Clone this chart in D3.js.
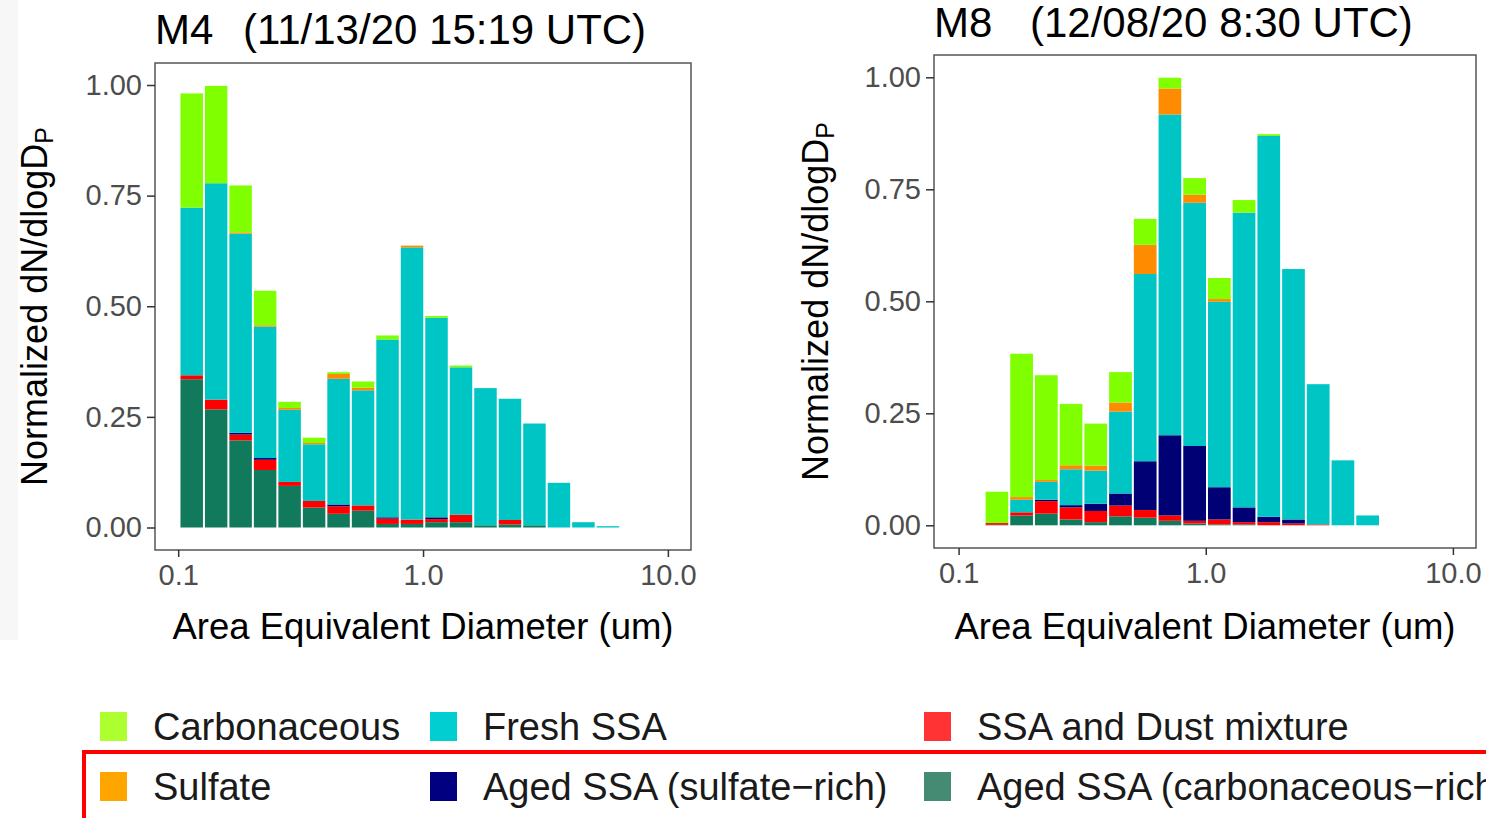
<!DOCTYPE html>
<html>
<head>
<meta charset="utf-8">
<script src="https://cdnjs.cloudflare.com/ajax/libs/d3/7.8.5/d3.min.js"></script>
<style>
    body { margin: 0; background: #fff; }
    svg text { font-family: 'Liberation Sans', Arial, sans-serif; }
</style>
</head>
<body>
<div id="dataviz"></div>
<script>
// bin edges (um), 0.1 decade wide
const binEdges = [0.1012, 0.1274, 0.1603, 0.2018, 0.2541, 0.3199, 0.4027, 0.5070, 0.6383, 0.8035,
    1.0116, 1.2735, 1.6032, 2.0184, 2.5410, 3.1989, 4.0272, 5.0699, 6.3826];

// stacking order, bottom -> top
const stackKeys = ['agedCarb', 'dust', 'agedSulf', 'fresh', 'sulfate', 'carb'];

const yTicks = [0, 0.25, 0.5, 0.75, 1];
const xTicks = [0.1, 1, 10];

// M4 (bins 0..17)
const m4Carb     = [0.258, 0.220, 0.106, 0.078, 0.014, 0.012, 0.004, 0.014, 0.009, 0.000, 0.004, 0.004, 0, 0, 0, 0, 0, 0];
const m4Sulfate  = [0, 0, 0.003, 0.003, 0.004, 0.003, 0.011, 0.006, 0, 0.004, 0, 0, 0, 0, 0, 0, 0, 0];
const m4Fresh    = [0.379, 0.489, 0.450, 0.297, 0.163, 0.128, 0.284, 0.260, 0.402, 0.615, 0.451, 0.333, 0.310, 0.274, 0.230, 0.101, 0.012, 0.003];
const m4AgedSulf = [0, 0, 0.004, 0.004, 0, 0, 0.004, 0, 0.003, 0, 0.004, 0, 0, 0, 0, 0, 0, 0];
const m4Dust     = [0.009, 0.022, 0.013, 0.023, 0.009, 0.015, 0.017, 0.012, 0.012, 0.010, 0.007, 0.017, 0, 0.010, 0, 0, 0, 0];
const m4AgedCarb = [0.335, 0.267, 0.197, 0.130, 0.094, 0.045, 0.031, 0.038, 0.008, 0.008, 0.012, 0.012, 0.005, 0.007, 0.005, 0, 0, 0];

// M8 (bins 1..16)
const m8Carb     = [0.070, 0.320, 0.234, 0.137, 0.094, 0.068, 0.058, 0.024, 0.037, 0.047, 0.028, 0.004, 0, 0, 0, 0];
const m8Sulfate  = [0, 0.006, 0.004, 0.009, 0.011, 0.020, 0.065, 0.058, 0.018, 0.006, 0, 0, 0, 0, 0, 0];
const m8Fresh    = [0, 0.028, 0.040, 0.080, 0.074, 0.183, 0.418, 0.716, 0.543, 0.414, 0.658, 0.850, 0.559, 0.313, 0.145, 0.022];
const m8AgedSulf = [0, 0, 0.003, 0.005, 0.016, 0.027, 0.109, 0.179, 0.167, 0.072, 0.033, 0.012, 0.009, 0, 0, 0];
const m8Dust     = [0.004, 0.007, 0.028, 0.027, 0.025, 0.024, 0.017, 0.012, 0.006, 0.011, 0.005, 0.007, 0.004, 0.002, 0, 0];
const m8AgedCarb = [0.001, 0.022, 0.026, 0.013, 0.007, 0.020, 0.017, 0.010, 0.004, 0.002, 0.002, 0, 0, 0, 0, 0];

// legend, laid out by rows
const legendKeys   = ['carb', 'fresh', 'dust', 'sulfate', 'agedSulf', 'agedCarb'];
const legendLabels = ['Carbonaceous', 'Fresh SSA', 'SSA and Dust mixture',
    'Sulfate', 'Aged SSA (sulfate\u2212rich)', 'Aged SSA (carbonaceous\u2212rich)'];

const barColors = {
    carb: '#7FFF00', sulfate: '#FF8C00', fresh: '#00C5C5',
    agedSulf: '#000075', dust: '#FF0000', agedCarb: '#127A5C'
};
const legendColors = {
    carb: '#ADFF2F', sulfate: '#FFA500', fresh: '#00CED1',
    agedSulf: '#000080', dust: '#FF3333', agedCarb: '#458B74'
};

window.onload = () => {

    const w = 1486;
    const h = 818;

    const svg = d3.select('#dataviz')
        .append('svg')
        .attr('width', w)
        .attr('height', h);

    svg.append('rect')
        .attr('x', 0).attr('y', 0)
        .attr('width', 18).attr('height', 640)
        .attr('fill', '#F7F7F7');

    const panels = [
        {
            title: 'M4', when: '(11/13/20 15:19 UTC)', titleY: 44, whenX: 243,
            startBin: 0,
            series: { carb: m4Carb, sulfate: m4Sulfate, fresh: m4Fresh, agedSulf: m4AgedSulf, dust: m4Dust, agedCarb: m4AgedCarb },
            box: { x0: 155, x1: 691, y0: 63, y1: 550 },
            xr: [178.2, 667.9], yr: [527.5, 85],
            ylabX: 47
        },
        {
            title: 'M8', when: '(12/08/20 8:30 UTC)', titleY: 37, whenX: 1030,
            startBin: 1,
            series: { carb: m8Carb, sulfate: m8Sulfate, fresh: m8Fresh, agedSulf: m8AgedSulf, dust: m8Dust, agedCarb: m8AgedCarb },
            box: { x0: 934, x1: 1476, y0: 55, y1: 548 },
            xr: [958.6, 1452.9], yr: [525.3, 77.3],
            ylabX: 828
        }
    ];

    panels.forEach(drawPanel);

    function drawPanel(p) {
        const g = svg.append('g');

        const xScale = d3.scaleLog().domain([0.1, 10]).range(p.xr);
        const yScale = d3.scaleLinear().domain([0, 1]).range(p.yr);

        const rows = p.series.fresh.map((_, i) => {
            const row = { lo: binEdges[p.startBin + i], hi: binEdges[p.startBin + i + 1] };
            stackKeys.forEach(k => row[k] = p.series[k][i]);
            return row;
        });

        const stacked = d3.stack().keys(stackKeys)(rows);

        g.selectAll('g.layer')
            .data(stacked)
            .enter()
            .append('g')
            .attr('class', 'layer')
            .attr('fill', d => barColors[d.key])
            .selectAll('rect')
            .data(d => d.filter(s => s[1] - s[0] > 0))
            .enter()
            .append('rect')
            .attr('x', d => xScale(d.data.lo) + 1)
            .attr('width', d => xScale(d.data.hi) - xScale(d.data.lo) - 2)
            .attr('y', d => yScale(d[1]))
            .attr('height', d => yScale(d[0]) - yScale(d[1]));

        // panel border
        g.append('rect')
            .attr('x', p.box.x0).attr('y', p.box.y0)
            .attr('width', p.box.x1 - p.box.x0)
            .attr('height', p.box.y1 - p.box.y0)
            .attr('fill', 'none')
            .attr('stroke', '#555')
            .attr('stroke-width', 1.5);

        const yAxis = g.append('g')
            .attr('transform', `translate(${p.box.x0},0)`)
            .call(d3.axisLeft(yScale).tickValues(yTicks).tickFormat(d3.format('.2f')).tickSize(8).tickPadding(5));

        const xAxis = g.append('g')
            .attr('transform', `translate(0,${p.box.y1})`)
            .call(d3.axisBottom(xScale).tickValues(xTicks).tickFormat(d3.format('.1f')).tickSize(7).tickPadding(7));

        [yAxis, xAxis].forEach(ax => {
            ax.select('.domain').remove();
            ax.selectAll('line').attr('stroke', '#333').attr('stroke-width', 1.5);
            ax.selectAll('text')
                .attr('font-size', 29)
                .attr('fill', '#4D4D4D')
                .style('font-family', "'Liberation Sans', Arial, sans-serif");
        });

        // title
        g.append('text')
            .attr('x', p.box.x0)
            .attr('y', p.titleY)
            .attr('font-size', 42)
            .attr('fill', '#000')
            .text(p.title);
        g.append('text')
            .attr('x', p.whenX)
            .attr('y', p.titleY)
            .attr('font-size', 42)
            .attr('fill', '#000')
            .text(p.when);

        // x axis title
        g.append('text')
            .attr('x', (p.box.x0 + p.box.x1) / 2)
            .attr('y', 639)
            .attr('text-anchor', 'middle')
            .attr('font-size', 36.5)
            .attr('fill', '#000')
            .text('Area Equivalent Diameter (um)');

        // y axis title
        const yt = g.append('text')
            .attr('transform', `translate(${p.ylabX},${(p.box.y0 + p.box.y1) / 2}) rotate(-90)`)
            .attr('text-anchor', 'middle')
            .attr('font-size', 36)
            .attr('fill', '#000');
        yt.append('tspan').text('Normalized dN/dlogD');
        yt.append('tspan')
            .attr('font-size', 25)
            .attr('dy', 6)
            .text('P');
    }

    // legend
    const colX = [100, 430, 924];
    const rowY = [727, 787];

    svg.append('rect')
        .attr('x', 84).attr('y', 752)
        .attr('width', 1460).attr('height', 100)
        .attr('fill', 'none')
        .attr('stroke', '#FF0000')
        .attr('stroke-width', 4);

    const item = svg.selectAll('g.legend-item')
        .data(legendKeys)
        .enter()
        .append('g')
        .attr('class', 'legend-item')
        .attr('transform', (d, i) => `translate(${colX[i % 3]},${rowY[Math.floor(i / 3)]})`);

    item.append('rect')
        .attr('x', 0).attr('y', -15)
        .attr('width', 27).attr('height', 29)
        .attr('fill', d => legendColors[d]);

    item.append('text')
        .attr('x', 53)
        .attr('y', 0)
        .attr('dy', '0.35em')
        .attr('font-size', 38)
        .attr('fill', '#1a1a1a')
        .text((d, i) => legendLabels[i]);
}
</script>
</body>
</html>
